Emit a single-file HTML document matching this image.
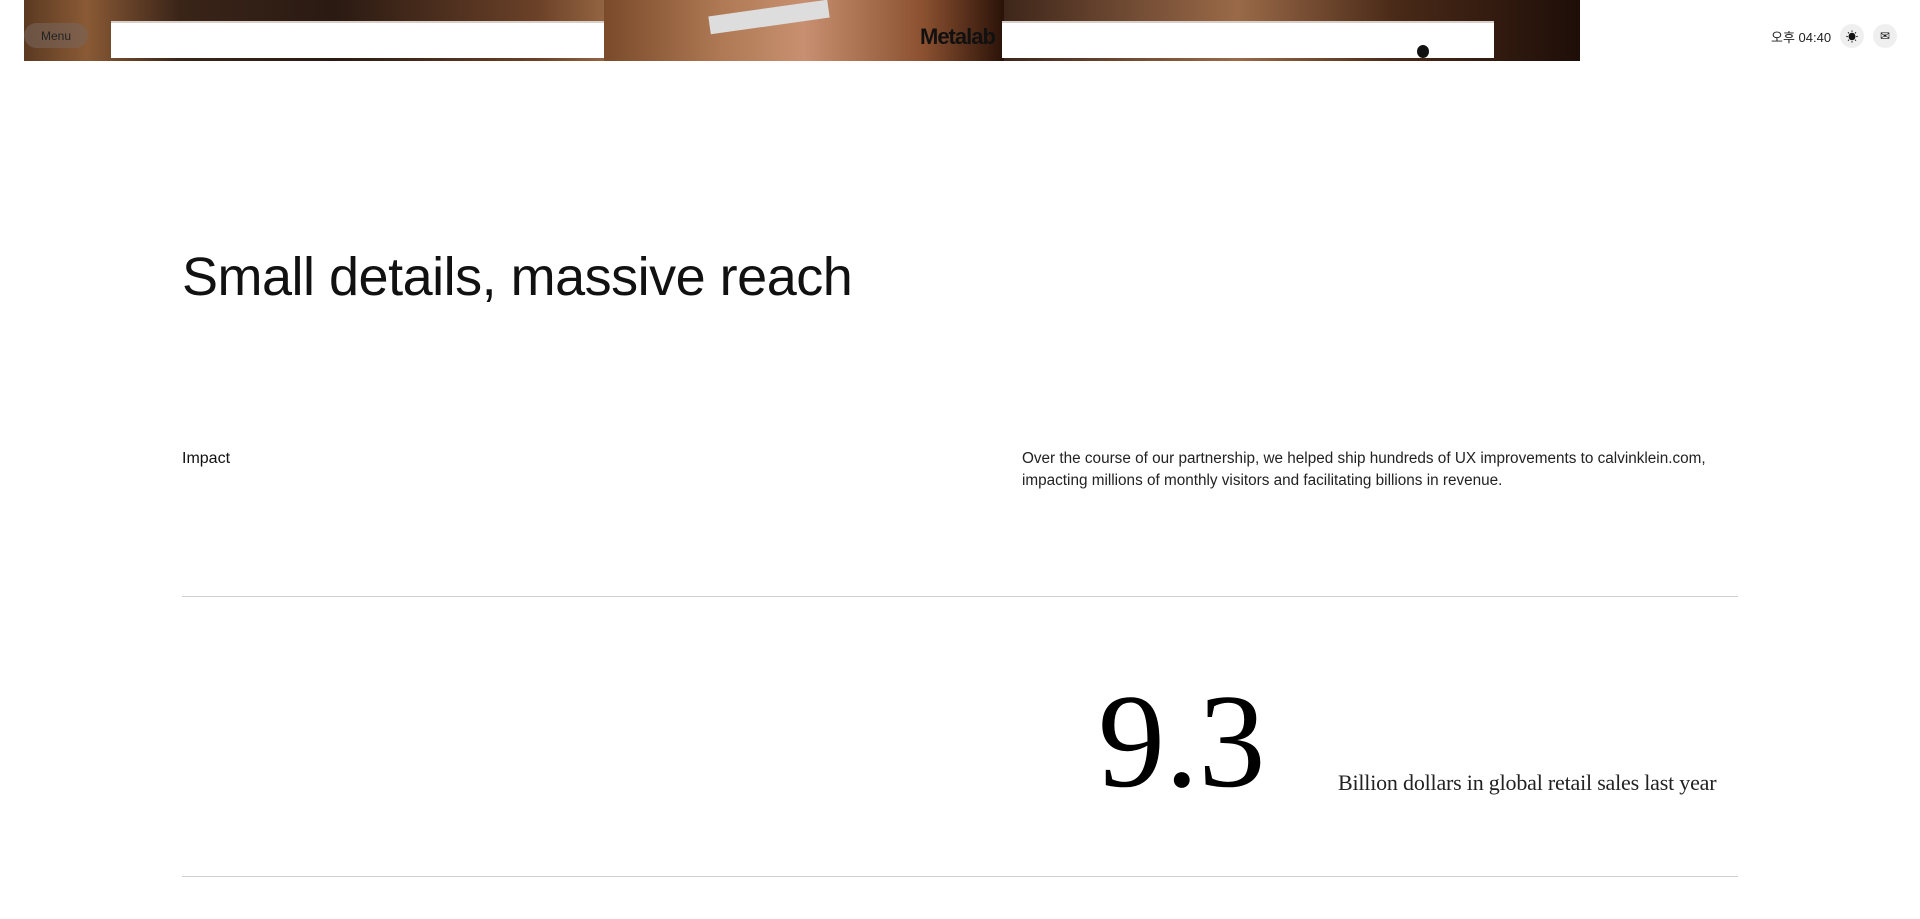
<!DOCTYPE html>
<html><head><meta charset="utf-8">
<style>
*{margin:0;padding:0;box-sizing:border-box}
body{width:1920px;height:919px;background:#fff;position:relative;overflow:hidden;font-family:"Liberation Sans","Noto Sans CJK KR",sans-serif;color:#111}
.abs{position:absolute}
#banner{left:24px;top:0;width:1556px;height:61px;background:linear-gradient(90deg,#5a3a22 0%,#8a5a35 4%,#3a2418 10%,#2a1a12 20%,#6b4128 33%,#9a6a45 38%,#5a3420 45%,#3a2014 52%,#2a1810 60%,#6a4630 70%,#9a6a48 78%,#4a2a18 88%,#1e0e08 100%)}
.white{background:#fff;top:21px;height:37px;border-top:2px solid #d8d0c8}
.line{left:182px;width:1556px;height:1px;background:#cfcfcf}
.circ{width:24px;height:24px;border-radius:50%;background:#efefef;top:24px;display:flex;align-items:center;justify-content:center;font-size:12px}
</style></head><body>
<div id="banner" class="abs">
  <div class="abs" style="left:580px;top:0;width:400px;height:61px;background:linear-gradient(90deg,#7a4a2a,#b07a55 30%,#c89070 50%,#8a5030 80%,#2a1208)"></div>
  <div class="abs" style="left:685px;top:8px;width:120px;height:18px;background:#ddd;transform:rotate(-8deg)"></div>
</div>
<div class="abs white" style="left:111px;width:493px"></div>
<div class="abs white" style="left:1002px;width:492px"></div>
<div class="abs" style="left:920px;top:24px;font-size:22px;font-weight:bold;color:#111;letter-spacing:-1px">Metalab</div>
<div class="abs" style="left:1417px;top:45px;width:12px;height:13px;border-radius:50%;background:#111"></div>
<div class="abs" style="left:24px;top:23px;width:64px;height:25px;border-radius:13px;background:rgba(120,100,90,0.6);font-size:12px;color:#222;display:flex;align-items:center;justify-content:center">Menu</div>
<div class="abs" style="left:1771px;top:27px;font-size:13px;color:#222">오후 04:40</div>
<div class="abs circ" style="left:1840px">☀</div>
<div class="abs circ" style="left:1873px">✉</div>
<h1 class="abs" style="left:182px;top:246px;font-size:54px;font-weight:normal;letter-spacing:-0.5px;color:#111">Small details, massive reach</h1>
<div class="abs" style="left:182px;top:450px;font-size:16px">Impact</div>
<div class="abs" style="left:1022px;top:448px;width:720px;font-size:15.3px;line-height:22px;color:#222">Over the course of our partnership, we helped ship hundreds of UX improvements to calvinklein.com, impacting millions of monthly visitors and facilitating billions in revenue.</div>
<div class="abs line" style="top:596px"></div>
<div class="abs" style="left:1098px;top:674px;font-family:'Liberation Serif',serif;font-size:134px;line-height:1;transform:scaleX(1.0);transform-origin:left top;color:#000">9.3</div>
<div class="abs" style="left:1338px;top:770px;font-family:'Liberation Serif',serif;font-size:22px;letter-spacing:-0.2px;color:#222;white-space:nowrap">Billion dollars in global retail sales last year</div>
<div class="abs line" style="top:876px"></div>
</body></html>
